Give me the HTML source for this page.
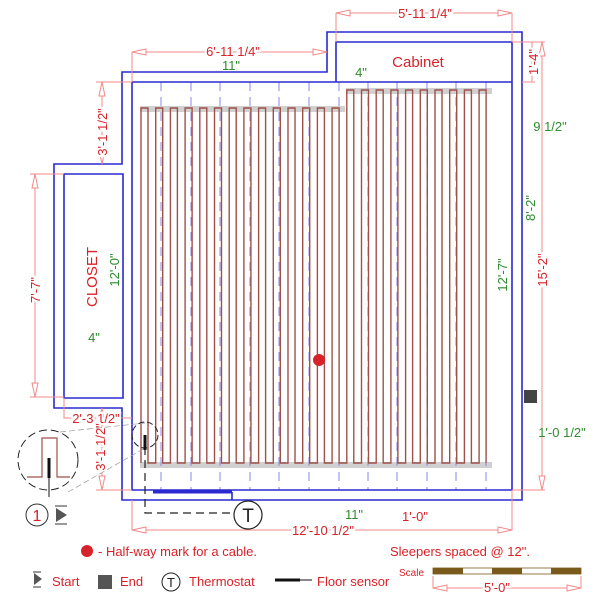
<!DOCTYPE html>
<html><head><meta charset="utf-8"><style>
html,body{margin:0;padding:0;background:#fff}
svg{display:block}
text{font-family:"Liberation Sans",sans-serif}
.r{fill:#d8222a}.g{fill:#2e8b2e}
</style></head><body>
<svg width="600" height="600" viewBox="0 0 600 600" xmlns="http://www.w3.org/2000/svg">
<!-- gray bands -->
<rect x="140" y="106" width="205" height="6" fill="#d0d0d0"/>
<rect x="346" y="88" width="146" height="6" fill="#d0d0d0"/>
<rect x="140" y="462" width="352" height="6" fill="#d0d0d0"/>
<!-- sleepers -->
<g stroke="#8a8ae8" stroke-width="1" stroke-dasharray="9,6" fill="none">
<path d="M161 82V490M191 82V490M220 82V490M250 82V490M279 82V490M309 82V490M339 82V490M368 82V490M397 82V490M427 82V490M456 82V490M486 82V490"/>
</g>
<!-- cable -->
<path fill="none" stroke="#a0504a" stroke-width="1.4" d="M141 463
v-355h7v355h7.7v-355h7v355h7.7v-355h7v355h7.7v-355h7v355h7.7v-355h7v355h7.7v-355h7v355h7.7v-355h7v355h7.7
v-355h7v355h7.7v-355h7v355h7.7v-355h7v355h7.7v-355h7v355h7.7v-355h7v355h7.7v-355h7v355h7.7v-355h7v355h7.7
v-373h7v373h7.7v-373h7v373h7.7v-373h7v373h7.7v-373h7v373h7.7v-373h7v373h7.7v-373h7v373h7.7v-373h7v373h7.7v-373h7v373h7.7v-373h7v373h7.7v-373h7v373"/>
<!-- walls -->
<g stroke="#2a2ad0" stroke-width="1.6" fill="none">
<path d="M122 72H327V32H522V500H122V408H54V164H122Z"/>
<path d="M132 82H512M336 82V42H512V490H132V82"/>
<path d="M64 174H123V398H64Z"/>
<path d="M232 492V500"/>
</g>
<path d="M153 492H232" stroke="#2a2ad0" stroke-width="3"/>
<!-- dimension lines -->
<g stroke="#f08a8a" stroke-width="1" fill="none">
<path d="M132 52H327M132 52V82M336 13H512M336 13V42M512 13V42"/>
<path d="M522 42H535M522 82H535M532 42V82M512 42H545M542 42V490M512 490H545"/>
<path d="M102 82V164M96 82H132M35 174V397M30 174H64M30 397H64"/>
<path d="M64 398V418H132M102 408V490M96 490H132"/>
<path d="M132 500V530H512V500M512 490V500"/>
<path d="M433 576V588H581V576M433 588H581"/>
</g>
<g fill="#fff" stroke="#f08a8a" stroke-width="1">
<path d="M132 52l14-3v6zM327 52l-14-3v6zM336 13l14-3v6zM512 13l-14-3v6zM542 42l-3 14h6zM542 490l-3-14h6zM102 82l-3 14h6zM102 164l-3-14h6zM35 174l-3 14h6zM35 397l-3-14h6zM102 408l-3 14h6zM102 490l-3-14h6zM132 530l14-3v6zM512 530l-14-3v6zM433 588l14-3v6zM581 588l-14-3v6z"/>
</g>
<!-- texts -->
<g font-size="13">
<text x="233" y="56" class="r" text-anchor="middle" stroke="#fff" stroke-width="4" paint-order="stroke">6'-11 1/4"</text>
<text x="231" y="70" class="g" text-anchor="middle">11"</text>
<text x="425" y="18" class="r" text-anchor="middle" stroke="#fff" stroke-width="4" paint-order="stroke">5'-11 1/4"</text>
<text x="418" y="67" class="r" text-anchor="middle" font-size="15">Cabinet</text>
<text x="361" y="77" class="g" text-anchor="middle">4"</text>
<text class="r" text-anchor="middle" transform="translate(538,62) rotate(-90)" stroke="#fff" stroke-width="4" paint-order="stroke">1'-4"</text>
<text class="r" text-anchor="middle" transform="translate(547,270) rotate(-90)" stroke="#fff" stroke-width="4" paint-order="stroke">15'-2"</text>
<text x="550" y="131" class="g" text-anchor="middle">9 1/2"</text>
<text class="g" text-anchor="middle" transform="translate(535,208) rotate(-90)">8'-2"</text>
<text class="g" text-anchor="middle" transform="translate(507,275) rotate(-90)">12'-7"</text>
<text x="562" y="437" class="g" text-anchor="middle">1'-0 1/2"</text>
<text class="r" text-anchor="middle" transform="translate(107,132) rotate(-90)" stroke="#fff" stroke-width="4" paint-order="stroke">3'-1 1/2"</text>
<text class="r" text-anchor="middle" transform="translate(40,290) rotate(-90)" stroke="#fff" stroke-width="4" paint-order="stroke">7'-7"</text>
<text class="r" text-anchor="middle" font-size="15" transform="translate(97,277) rotate(-90)">CLOSET</text>
<text class="g" text-anchor="middle" transform="translate(119,270) rotate(-90)">12'-0"</text>
<text x="94" y="342" class="g" text-anchor="middle">4"</text>
<text x="96" y="423" class="r" text-anchor="middle" stroke="#fff" stroke-width="4" paint-order="stroke">2'-3 1/2"</text>
<text class="r" text-anchor="middle" transform="translate(105,447) rotate(-90)" stroke="#fff" stroke-width="4" paint-order="stroke">3'-1 1/2"</text>
<text x="354" y="519" class="g" text-anchor="middle">11"</text>
<text x="415" y="521" class="r" text-anchor="middle">1'-0"</text>
<text x="323" y="535" class="r" text-anchor="middle" stroke="#fff" stroke-width="4" paint-order="stroke">12'-10 1/2"</text>
<text x="98" y="556" class="r">- Half-way mark for a cable.</text>
<text x="390" y="556" class="r">Sleepers spaced @ 12".</text>
<text x="52" y="586" class="r">Start</text>
<text x="120" y="586" class="r">End</text>
<text x="189" y="586" class="r">Thermostat</text>
<text x="317" y="586" class="r">Floor sensor</text>
<text x="399" y="576" class="r" font-size="10">Scale</text>
<text x="497" y="592" class="r" text-anchor="middle" stroke="#fff" stroke-width="4" paint-order="stroke">5'-0"</text>
</g>
<!-- half-way dot -->
<circle cx="319" cy="360" r="6" fill="#d8222a"/>
<circle cx="87" cy="551" r="6" fill="#d8222a"/>
<!-- end square -->
<rect x="524" y="390" width="13" height="13" fill="#444"/>
<rect x="98" y="575" width="14" height="14" fill="#555"/>
<!-- start icons -->
<path d="M56 508l11 7-11 7z" fill="#555"/><path d="M55 506h12M55 524h12" stroke="#333"/>
<path d="M34 573l8 6-8 6z" fill="#555"/><path d="M33 572h8M33 587h8" stroke="#333"/>
<circle cx="37" cy="515" r="11" fill="none" stroke="#333"/>
<text x="37" y="521" text-anchor="middle" font-size="16" class="r">1</text>
<!-- thermostat -->
<path d="M145 447V513H234" stroke="#222" stroke-width="1.2" stroke-dasharray="8,5" fill="none"/>
<circle cx="248" cy="515" r="14" fill="#fff" stroke="#222" stroke-width="1.2"/>
<text x="248" y="522" text-anchor="middle" font-size="19" fill="#222">T</text>
<circle cx="171" cy="582" r="9" fill="#fff" stroke="#222"/>
<text x="171" y="587" text-anchor="middle" font-size="13" fill="#222">T</text>
<!-- sensor -->
<circle cx="145" cy="435" r="13" fill="none" stroke="#222" stroke-dasharray="6,3"/>
<path d="M145 435V450" stroke="#111" stroke-width="3"/>
<path d="M68 492L145 448M60 432L145 423" stroke="#999" stroke-width="0.7" stroke-dasharray="6,3"/>
<circle cx="48" cy="460" r="30" fill="#fff" stroke="#222" stroke-dasharray="8,4"/>
<path d="M27 477H42V438H57V477H70" fill="none" stroke="#a0504a" stroke-width="1.2"/>
<path d="M49 458V478" stroke="#111" stroke-width="3"/><path d="M49 478V497" stroke="#111"/>
<path d="M275 580H300" stroke="#111" stroke-width="3"/><path d="M300 580H312" stroke="#111"/>
<!-- scale bar -->
<rect x="433" y="568" width="148" height="6" fill="#fff" stroke="#7a5a1a" stroke-width="0.8"/>
<rect x="433" y="568" width="30" height="6" fill="#7a5a1a"/>
<rect x="492" y="568" width="30" height="6" fill="#7a5a1a"/>
<rect x="551" y="568" width="30" height="6" fill="#7a5a1a"/>
</svg>
</body></html>
